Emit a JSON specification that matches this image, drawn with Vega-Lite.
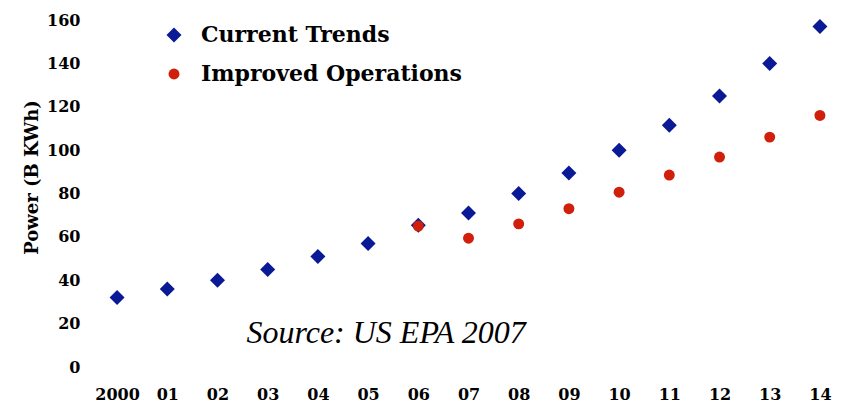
{
  "$schema": "https://vega.github.io/schema/vega-lite/v6.json",
  "width": 743,
  "height": 347,
  "autosize": {"type": "none"},
  "padding": {"left": 97, "top": 20, "right": 1, "bottom": 39},
  "background": "white",
  "config": {
    "view": {"stroke": null},
    "font": "DejaVu Serif"
  },
  "datasets": {
    "points": [
      {"year": "2000", "series": "Current Trends", "power": 32},
      {"year": "01", "series": "Current Trends", "power": 36},
      {"year": "02", "series": "Current Trends", "power": 40},
      {"year": "03", "series": "Current Trends", "power": 45},
      {"year": "04", "series": "Current Trends", "power": 51},
      {"year": "05", "series": "Current Trends", "power": 57},
      {"year": "06", "series": "Current Trends", "power": 65.4},
      {"year": "07", "series": "Current Trends", "power": 71},
      {"year": "08", "series": "Current Trends", "power": 80},
      {"year": "09", "series": "Current Trends", "power": 89.4},
      {"year": "10", "series": "Current Trends", "power": 100},
      {"year": "11", "series": "Current Trends", "power": 111.5},
      {"year": "12", "series": "Current Trends", "power": 125},
      {"year": "13", "series": "Current Trends", "power": 140},
      {"year": "14", "series": "Current Trends", "power": 157},
      {"year": "06", "series": "Improved Operations", "power": 65},
      {"year": "07", "series": "Improved Operations", "power": 59.4},
      {"year": "08", "series": "Improved Operations", "power": 66},
      {"year": "09", "series": "Improved Operations", "power": 73},
      {"year": "10", "series": "Improved Operations", "power": 80.6},
      {"year": "11", "series": "Improved Operations", "power": 88.5},
      {"year": "12", "series": "Improved Operations", "power": 96.8},
      {"year": "13", "series": "Improved Operations", "power": 106},
      {"year": "14", "series": "Improved Operations", "power": 116}
    ],
    "note": [
      {"year": "05", "power": 15.5, "label": "Source: US EPA 2007"}
    ]
  },
  "layer": [
    {
      "data": {"name": "points"},
      "mark": {"type": "point", "filled": true, "opacity": 1},
      "encoding": {
        "x": {
          "field": "year", "type": "ordinal",
          "sort": ["2000","01","02","03","04","05","06","07","08","09","10","11","12","13","14"],
          "scale": {"type": "point", "padding": 0.4},
          "axis": {
            "title": null, "domain": false, "ticks": false, "grid": false,
            "labelAngle": 0, "labelFont": "DejaVu Serif", "labelFontWeight": "bold",
            "labelFontSize": 16, "labelColor": "black", "labelPadding": 19
          }
        },
        "y": {
          "field": "power", "type": "quantitative",
          "scale": {"domain": [0, 160], "nice": false, "zero": true},
          "axis": {
            "title": "Power (B KWh)", "values": [0,20,40,60,80,100,120,140,160],
            "domain": false, "ticks": false, "grid": false,
            "labelFont": "DejaVu Serif", "labelFontWeight": "bold",
            "labelFontSize": 16, "labelColor": "black", "labelPadding": 17,
            "titleFont": "DejaVu Serif", "titleFontWeight": "bold", "titleFontSize": 18,
            "titleColor": "black", "titleX": -65, "titleY": 157, "titleAngle": -90,
            "titleAlign": "center", "titleBaseline": "middle"
          }
        },
        "color": {
          "field": "series", "type": "nominal",
          "scale": {"domain": ["Current Trends", "Improved Operations"], "range": ["#0a1a96", "#d01f0a"]},
          "legend": {
            "title": null, "orient": "none", "legendX": 66, "legendY": 4,
            "labelFont": "DejaVu Serif", "labelFontWeight": "bold", "labelFontSize": 22,
            "labelColor": "black", "labelOffset": 16, "rowPadding": 17, "symbolSize": 200,
            "symbolOpacity": 1, "labelLimit": 400
          }
        },
        "shape": {
          "field": "series", "type": "nominal",
          "scale": {"domain": ["Current Trends", "Improved Operations"], "range": ["diamond", "circle"]},
          "legend": null
        },
        "size": {
          "field": "series", "type": "nominal",
          "scale": {"domain": ["Current Trends", "Improved Operations"], "range": [225, 120]},
          "legend": null
        }
      }
    },
    {
      "data": {"name": "note"},
      "mark": {"type": "text", "font": "Liberation Serif", "fontStyle": "italic", "fontSize": 32, "color": "black", "align": "center", "baseline": "middle", "dx": 18},
      "encoding": {
        "x": {"field": "year", "type": "ordinal", "sort": ["2000","01","02","03","04","05","06","07","08","09","10","11","12","13","14"]},
        "y": {"field": "power", "type": "quantitative"},
        "text": {"field": "label"}
      }
    }
  ]
}
